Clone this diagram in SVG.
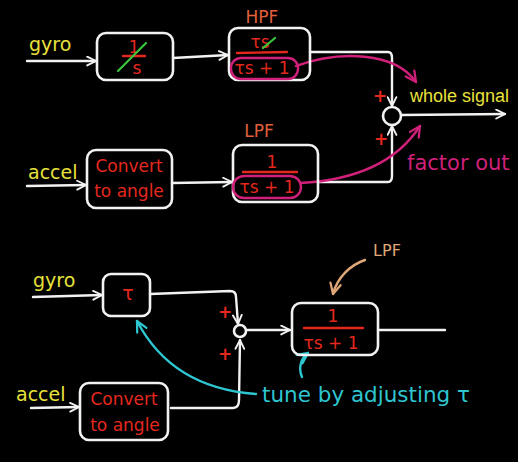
<svg xmlns="http://www.w3.org/2000/svg" width="518" height="462" viewBox="0 0 518 462">
<defs>
<style>
.bg{fill:#000}
.box{fill:none;stroke:#f2f2f2;stroke-width:2.6}
.wire{fill:none;stroke:#f2f2f2;stroke-width:2.4;stroke-linecap:round;stroke-linejoin:round}
.red{fill:#e5281e;font-family:"DejaVu Sans",sans-serif}
.yel{fill:#e8e23a;font-family:"DejaVu Sans",sans-serif;font-size:19px}
.org{fill:#e2603c;font-family:"DejaVu Sans",sans-serif;font-size:17px}
.bar{stroke:#e5281e;stroke-width:2.4;stroke-linecap:round}
.mag{fill:none;stroke:#d0207a;stroke-width:2.4;stroke-linecap:round}
.cyan{fill:none;stroke:#2ec6d0;stroke-width:2.4;stroke-linecap:round}
.tan{fill:none;stroke:#e0a878;stroke-width:2.4;stroke-linecap:round}
.grn{stroke:#3cc83c;stroke-width:2.2;stroke-linecap:round}
.plus{fill:#e5281e;font-family:"DejaVu Sans",sans-serif;font-size:17px;font-weight:bold}
</style>
<marker id="aw" viewBox="0 0 10 10" refX="9" refY="5" markerWidth="11" markerHeight="11" markerUnits="userSpaceOnUse" orient="auto"><path d="M1,1 L9,5 L1,9" fill="none" stroke="#f2f2f2" stroke-width="1.7" stroke-linecap="round"/></marker>
<marker id="am" viewBox="0 0 10 10" refX="9" refY="5" markerWidth="13" markerHeight="13" markerUnits="userSpaceOnUse" orient="auto"><path d="M1,1 L9,5 L1,9" fill="none" stroke="#d0207a" stroke-width="1.7" stroke-linecap="round"/></marker>
<marker id="ac" viewBox="0 0 10 10" refX="9" refY="5" markerWidth="13" markerHeight="13" markerUnits="userSpaceOnUse" orient="auto"><path d="M1,1 L9,5 L1,9" fill="none" stroke="#2ec6d0" stroke-width="1.7" stroke-linecap="round"/></marker>
<marker id="at" viewBox="0 0 10 10" refX="9" refY="5" markerWidth="13" markerHeight="13" markerUnits="userSpaceOnUse" orient="auto"><path d="M1,1 L9,5 L1,9" fill="none" stroke="#e0a878" stroke-width="1.7" stroke-linecap="round"/></marker>
</defs>
<rect class="bg" x="0" y="0" width="518" height="462"/>

<g id="connectors">
<path class="wire" d="M27,61 L96,61" marker-end="url(#aw)"/>
<path class="wire" d="M173,58 L228,55" marker-end="url(#aw)"/>
<path class="wire" d="M310,52 L388,52 Q392,52 392,58 L392,106" marker-end="url(#aw)"/>
<path class="wire" d="M27,186 L86,185" marker-end="url(#aw)"/>
<path class="wire" d="M172,183 L232,182" marker-end="url(#aw)"/>
<path class="wire" d="M318,182 L388,182 Q392,182 392,176 L392,126" marker-end="url(#aw)"/>
<path class="wire" d="M401,115 L505,114" marker-end="url(#aw)"/>
<path class="wire" d="M33,297 L102,295" marker-end="url(#aw)"/>
<path class="wire" d="M150,294 L230,291 Q236,291 236,297 L238,324" marker-end="url(#aw)"/>
<path class="wire" d="M31,408 L79,407" marker-end="url(#aw)"/>
<path class="wire" d="M171,408 L233,408 Q239,408 239,400 L240,340" marker-end="url(#aw)"/>
<path class="wire" d="M247,330 L290,330" marker-end="url(#aw)"/>
<path class="wire" d="M378,330 L445,330"/>
<path class="mag" d="M296,66 C340,50 395,52 416,82" marker-end="url(#am)"/>
<path class="mag" d="M300,183 C360,180 398,160 420,126" marker-end="url(#am)"/>
<path class="cyan" d="M256,394 C200,390 160,365 137,321" marker-end="url(#ac)"/>
<path class="cyan" d="M302,377 C298,368 301,358 308,353" marker-end="url(#ac)"/>
<path class="tan" d="M365,260 C350,265 337,278 333,294" marker-end="url(#at)"/>
</g>

<g id="sum1"><circle cx="392" cy="116" r="9" class="box"/>
<text class="plus" x="380" y="102" text-anchor="middle">+</text>
<text class="plus" x="381" y="145" text-anchor="middle">+</text></g>

<g id="sum2"><circle cx="240" cy="331" r="6" class="box"/>
<text class="plus" x="225" y="318" text-anchor="middle">+</text>
<text class="plus" x="225" y="360" text-anchor="middle">+</text></g>

<g id="gyro1"><text class="yel" x="29" y="51">gyro</text></g>
<g id="accel1"><text class="yel" x="28" y="179">accel</text></g>

<g id="integrator">
<rect class="box" x="97" y="33" width="76" height="47" rx="9"/>
<text class="red" x="134" y="53" font-size="17" text-anchor="middle">1</text>
<line class="bar" x1="123" y1="56" x2="145" y2="56"/>
<text class="red" x="137" y="74" font-size="17" text-anchor="middle">s</text>
<line class="grn" x1="118" y1="71" x2="146" y2="43"/>
</g>

<g id="hpf">
<text class="org" x="262" y="23" text-anchor="middle">HPF</text>
<rect class="box" x="229" y="28" width="81" height="52" rx="9"/>
<text class="red" x="260" y="48" font-size="17" text-anchor="middle">τs</text>
<line class="grn" x1="263" y1="48" x2="275" y2="38"/>
<line class="bar" x1="237" y1="53" x2="287" y2="52"/>
<text class="red" x="262" y="74" font-size="17" text-anchor="middle">τs + 1</text>
<rect x="231" y="58" width="67" height="21" rx="10" fill="none" stroke="#d0207a" stroke-width="2.4"/>
</g>

<g id="convert1">
<rect class="box" x="87" y="150" width="85" height="58" rx="9"/>
<text class="red" x="129" y="172" font-size="17" text-anchor="middle">Convert</text>
<text class="red" x="129" y="197" font-size="17" text-anchor="middle">to angle</text>
</g>

<g id="lpf1">
<text class="org" x="259" y="137" text-anchor="middle">LPF</text>
<rect class="box" x="233" y="145" width="85" height="57" rx="9"/>
<text class="red" x="272" y="168" font-size="17" text-anchor="middle">1</text>
<line class="bar" x1="243" y1="172" x2="297" y2="172"/>
<text class="red" x="267" y="193" font-size="17" text-anchor="middle">τs + 1</text>
<rect x="233" y="176" width="68" height="22" rx="11" fill="none" stroke="#d0207a" stroke-width="2.4"/>
</g>

<g id="whole"><text x="410" y="102" fill="#e8e23a" font-family="Liberation Sans,sans-serif" font-size="18">whole signal</text></g>
<g id="factor"><text x="407" y="170" fill="#d0207a" font-family="DejaVu Sans,sans-serif" font-size="21">factor out</text></g>

<g id="gyro2"><text class="yel" x="33" y="287">gyro</text></g>
<g id="accel2"><text class="yel" x="16" y="401">accel</text></g>

<g id="tau">
<rect class="box" x="103" y="274" width="47" height="42" rx="8"/>
<text class="red" x="128" y="300" font-size="19" text-anchor="middle">τ</text>
</g>

<g id="convert2">
<rect class="box" x="80" y="383" width="88" height="57" rx="9"/>
<text class="red" x="124" y="405" font-size="17" text-anchor="middle">Convert</text>
<text class="red" x="125" y="431" font-size="17" text-anchor="middle">to angle</text>
</g>

<g id="lpf2">
<text x="387" y="256" fill="#e0a878" font-family="DejaVu Sans,sans-serif" font-size="16" text-anchor="middle">LPF</text>
<rect class="box" x="292" y="303" width="86" height="52" rx="9"/>
<text class="red" x="333" y="322" font-size="17" text-anchor="middle">1</text>
<line class="bar" x1="304" y1="328" x2="363" y2="328"/>
<text class="red" x="331" y="349" font-size="17" text-anchor="middle">τs + 1</text>
</g>

<g id="tune"><text x="262" y="402" fill="#2ec6d0" font-family="DejaVu Sans,sans-serif" font-size="21" textLength="208" lengthAdjust="spacingAndGlyphs">tune by adjusting τ</text></g>
</svg>
